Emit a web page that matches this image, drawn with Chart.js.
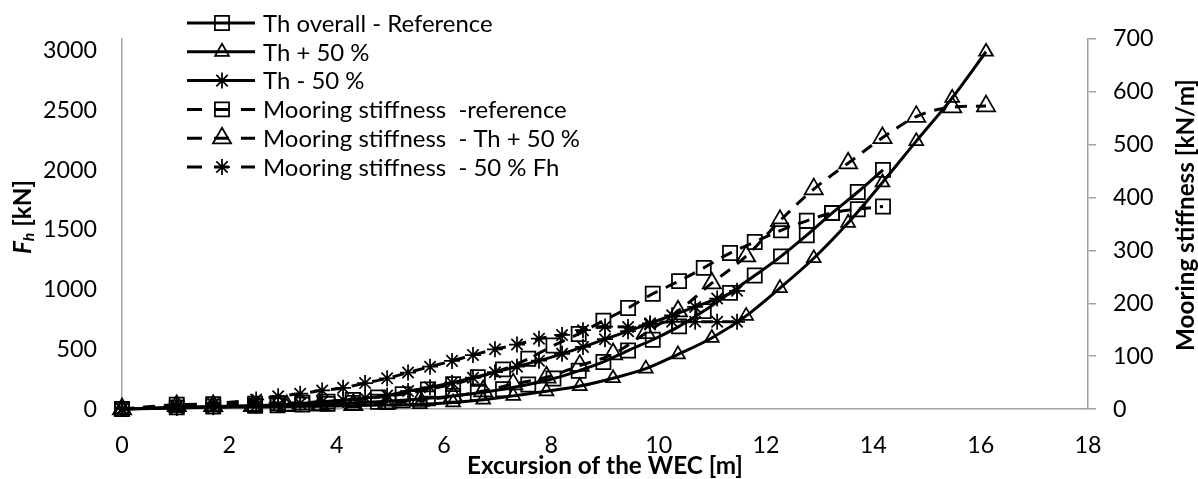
<!DOCTYPE html>
<html>
<head>
<meta charset="utf-8">
<script src="https://cdn.jsdelivr.net/npm/chart.js@4.4.1/dist/chart.umd.min.js"></script>
<style>
  html, body { margin: 0; padding: 0; background: #fff; }
  canvas { display: block; }
</style>
</head>
<body>
<canvas id="chart" width="1198" height="479"></canvas>
<script>
// Excursion [m] and horizontal force [kN] / stiffness [kN/m]
const xRef = [0, 1.02, 1.7, 2.48, 2.9, 3.36, 3.83, 4.3, 4.77, 5.23, 5.7, 6.17, 6.63, 7.1, 7.57, 8.04, 8.51, 8.97, 9.43, 9.89, 10.38, 10.84, 11.33, 11.79, 12.28, 12.76, 13.23, 13.71, 14.18];
const fRef = [0, 14, 20, 27, 32, 37, 43, 51, 61, 73, 89, 109, 134, 165, 205, 255, 320, 394, 490, 580, 692, 820, 973, 1118, 1279, 1456, 1641, 1818, 2003];
const kRef = [0, 8, 9, 10, 11, 12, 14, 17, 22, 28, 37, 47, 60, 75, 95, 120, 142, 167, 191, 218, 242, 267, 295, 316, 338, 356, 371, 378, 383];

const xP50 = [0, 1.02, 1.7, 2.44, 3.07, 3.69, 4.31, 4.94, 5.55, 6.17, 6.73, 7.29, 7.91, 8.53, 9.15, 9.76, 10.36, 10.99, 11.63, 12.26, 12.89, 13.53, 14.17, 14.8, 15.47, 16.1];
const fP50 = [0, 10, 14, 17, 20, 24, 28, 33, 40, 55, 78, 110, 148, 192, 258, 338, 458, 595, 780, 1013, 1263, 1560, 1898, 2244, 2607, 2993];
const kP50 = [0, 6, 6, 6, 6, 7, 8, 11, 16, 24, 34, 47, 60, 82, 104, 144, 185, 238, 289, 356, 416, 465, 513, 553, 571, 573];

const xM50 = [0, 1.02, 1.7, 2.5, 2.91, 3.32, 3.73, 4.12, 4.53, 4.94, 5.33, 5.74, 6.15, 6.54, 6.95, 7.36, 7.77, 8.2, 8.59, 9.0, 9.43, 9.84, 10.25, 10.68, 11.09, 11.46];
const fM50 = [0, 8, 14, 27, 36, 47, 60, 75, 92, 113, 150, 182, 220, 262, 308, 355, 405, 462, 520, 585, 652, 718, 785, 855, 925, 990];
const kM50 = [0, 5, 10, 18, 24, 29, 35, 40, 49, 58, 69, 80, 91, 102, 113, 122, 133, 140, 149, 156, 155, 160, 165, 165, 165, 165];

const seriesNames = [
  "Th overall - Reference",
  "Th + 50 %",
  "Th - 50 %",
  "Mooring stiffness  -reference",
  "Mooring stiffness  - Th + 50 %",
  "Mooring stiffness  - 50 % Fh"
];

// tick labels
const xTicks = [0, 2, 4, 6, 8, 10, 12, 14, 16, 18];
const yTicks = [0, 500, 1000, 1500, 2000, 2500, 3000];
const y2Ticks = [0, 100, 200, 300, 400, 500, 600, 700];

const xTitle = "Excursion of the WEC [m]";
const y2Title = "Mooring stiffness [kN/m]";

const FAMILY = "Lato, 'Open Sans', sans-serif";
const AXIS_GREY = "#a0a0a0";
const DASH = [12, 9];

// pick font sizes so text widths match the reference
const mctx = document.createElement("canvas").getContext("2d");
function fitSize(text, weight, width) {
  mctx.font = weight + " 100px " + FAMILY;
  return 100 * width / mctx.measureText(text).width;
}
const tickSize = fitSize("3000", "normal", 54);
const legendSize = fitSize(seriesNames[4], "normal", 317);
const titleSize = fitSize(xTitle, "bold", 276);

function pts(xs, ys) {
  return xs.map((x, i) => ({ x: x, y: ys[i] }));
}

function series(label, xs, ys, axis, style, radius, dashed) {
  return {
    label: label,
    data: pts(xs, ys),
    yAxisID: axis,
    borderColor: "#000",
    borderWidth: 3,
    borderDash: dashed ? DASH : [],
    pointStyle: style,
    pointRadius: radius,
    pointBorderWidth: 1.75,
    pointBorderColor: "#000",
    pointBackgroundColor: "rgba(0,0,0,0)",
    cubicInterpolationMode: "monotone",
    fill: false,
    clip: false
  };
}

const datasets = [
  series(seriesNames[0], xRef, fRef, "y", "rect", 10, false),
  series(seriesNames[1], xP50, fP50, "y", "triangle", 8, false),
  series(seriesNames[2], xM50, fM50, "y", "star", 8, false),
  series(seriesNames[3], xRef, kRef, "y1", "rect", 10, true),
  series(seriesNames[4], xP50, kP50, "y1", "triangle", 10.5, true),
  series(seriesNames[5], xM50, kM50, "y1", "star", 8, true)
];

function marker(ctx, style, r, x, y) {
  ctx.beginPath();
  if (style === "rect") {
    const s = r * Math.SQRT1_2;
    ctx.rect(x - s, y - s, 2 * s, 2 * s);
  } else if (style === "triangle") {
    ctx.moveTo(x, y - r);
    ctx.lineTo(x + r * Math.sin(2 * Math.PI / 3), y - r * Math.cos(2 * Math.PI / 3));
    ctx.lineTo(x + r * Math.sin(4 * Math.PI / 3), y - r * Math.cos(4 * Math.PI / 3));
    ctx.closePath();
  } else {
    for (let a = 0; a < 4; a++) {
      const ang = a * Math.PI / 4;
      ctx.moveTo(x + Math.cos(ang) * r, y + Math.sin(ang) * r);
      ctx.lineTo(x - Math.cos(ang) * r, y - Math.sin(ang) * r);
    }
  }
  ctx.stroke();
}

// Excel style legend and axis titles
const decorations = {
  id: "decorations",
  afterDraw(chart) {
    const ctx = chart.ctx;
    ctx.save();
    ctx.fillStyle = "#000";
    ctx.strokeStyle = "#000";

    // legend
    ctx.textBaseline = "middle";
    ctx.textAlign = "left";
    ctx.font = legendSize + "px " + FAMILY;
    chart.data.datasets.forEach((ds, i) => {
      const y = 23 + i * 28.8;
      ctx.lineWidth = 3;
      ctx.setLineDash(ds.borderDash.length ? [15, 12] : []);
      ctx.beginPath();
      ctx.moveTo(187, y);
      ctx.lineTo(255, y);
      ctx.stroke();
      ctx.setLineDash([]);
      ctx.lineWidth = 1.75;
      marker(ctx, ds.pointStyle, ds.pointRadius, 222, y);
      ctx.fillText(ds.label, 263, y + 1);
    });

    // x title
    ctx.font = "bold " + titleSize + "px " + FAMILY;
    ctx.textAlign = "center";
    ctx.fillText(xTitle, 605, 466);

    // right title
    ctx.save();
    ctx.translate(1186, 215);
    ctx.rotate(-Math.PI / 2);
    ctx.fillText(y2Title, 0, 0);
    ctx.restore();

    // left title: F with subscript h
    ctx.save();
    ctx.translate(23, 217);
    ctx.rotate(-Math.PI / 2);
    const fFont = "italic bold " + titleSize + "px " + FAMILY;
    const hFont = "italic bold " + (titleSize * 0.65) + "px " + FAMILY;
    const rest = " [kN]";
    ctx.font = fFont;
    const wF = ctx.measureText("F").width;
    ctx.font = hFont;
    const wH = ctx.measureText("h").width;
    ctx.font = "bold " + titleSize + "px " + FAMILY;
    const wR = ctx.measureText(rest).width;
    let x0 = -(wF + wH + wR) / 2;
    ctx.textAlign = "left";
    ctx.font = fFont;
    ctx.fillText("F", x0, 0);
    ctx.font = hFont;
    ctx.fillText("h", x0 + wF, titleSize * 0.25);
    ctx.font = "bold " + titleSize + "px " + FAMILY;
    ctx.fillText(rest, x0 + wF + wH, 0);
    ctx.restore();

    ctx.restore();
  }
};

const tickFont = { family: FAMILY, size: tickSize };
const fixedTicks = list => (s => { s.ticks = list.map(v => ({ value: v })); });
const plain = v => String(v);

new Chart(document.getElementById("chart"), {
  type: "line",
  data: { datasets: datasets },
  options: {
    responsive: false,
    animation: false,
    layout: { padding: { top: 24, left: 0, right: 0, bottom: 0 } },
    plugins: {
      legend: { display: false },
      tooltip: { enabled: false }
    },
    scales: {
      x: {
        type: "linear",
        min: 0,
        max: 18,
        ticks: { autoSkip: false, color: "#000", font: tickFont, padding: 36 - 0.6 * tickSize, callback: plain },
        afterBuildTicks: fixedTicks(xTicks),
        grid: { drawOnChartArea: false, drawTicks: false },
        border: { color: AXIS_GREY, width: 1.5 },
        afterFit(s) { s.height = 70; }
      },
      y: {
        position: "left",
        min: 0,
        max: 3100,
        ticks: { autoSkip: false, color: "#000", font: tickFont, padding: 25, callback: plain },
        afterBuildTicks: fixedTicks(yTicks),
        grid: { drawOnChartArea: false, drawTicks: false },
        border: { color: AXIS_GREY, width: 1.5 },
        afterFit(s) { s.width = 122; }
      },
      y1: {
        position: "right",
        min: 0,
        max: 700,
        ticks: { autoSkip: false, color: "#000", font: tickFont, padding: 17, callback: plain },
        afterBuildTicks: fixedTicks(y2Ticks),
        grid: { drawOnChartArea: false, drawTicks: true, tickLength: 8, color: AXIS_GREY, lineWidth: 1.5 },
        border: { color: AXIS_GREY, width: 1.5 },
        afterFit(s) { s.width = 110; }
      }
    }
  },
  plugins: [decorations]
});
</script>
</body>
</html>
